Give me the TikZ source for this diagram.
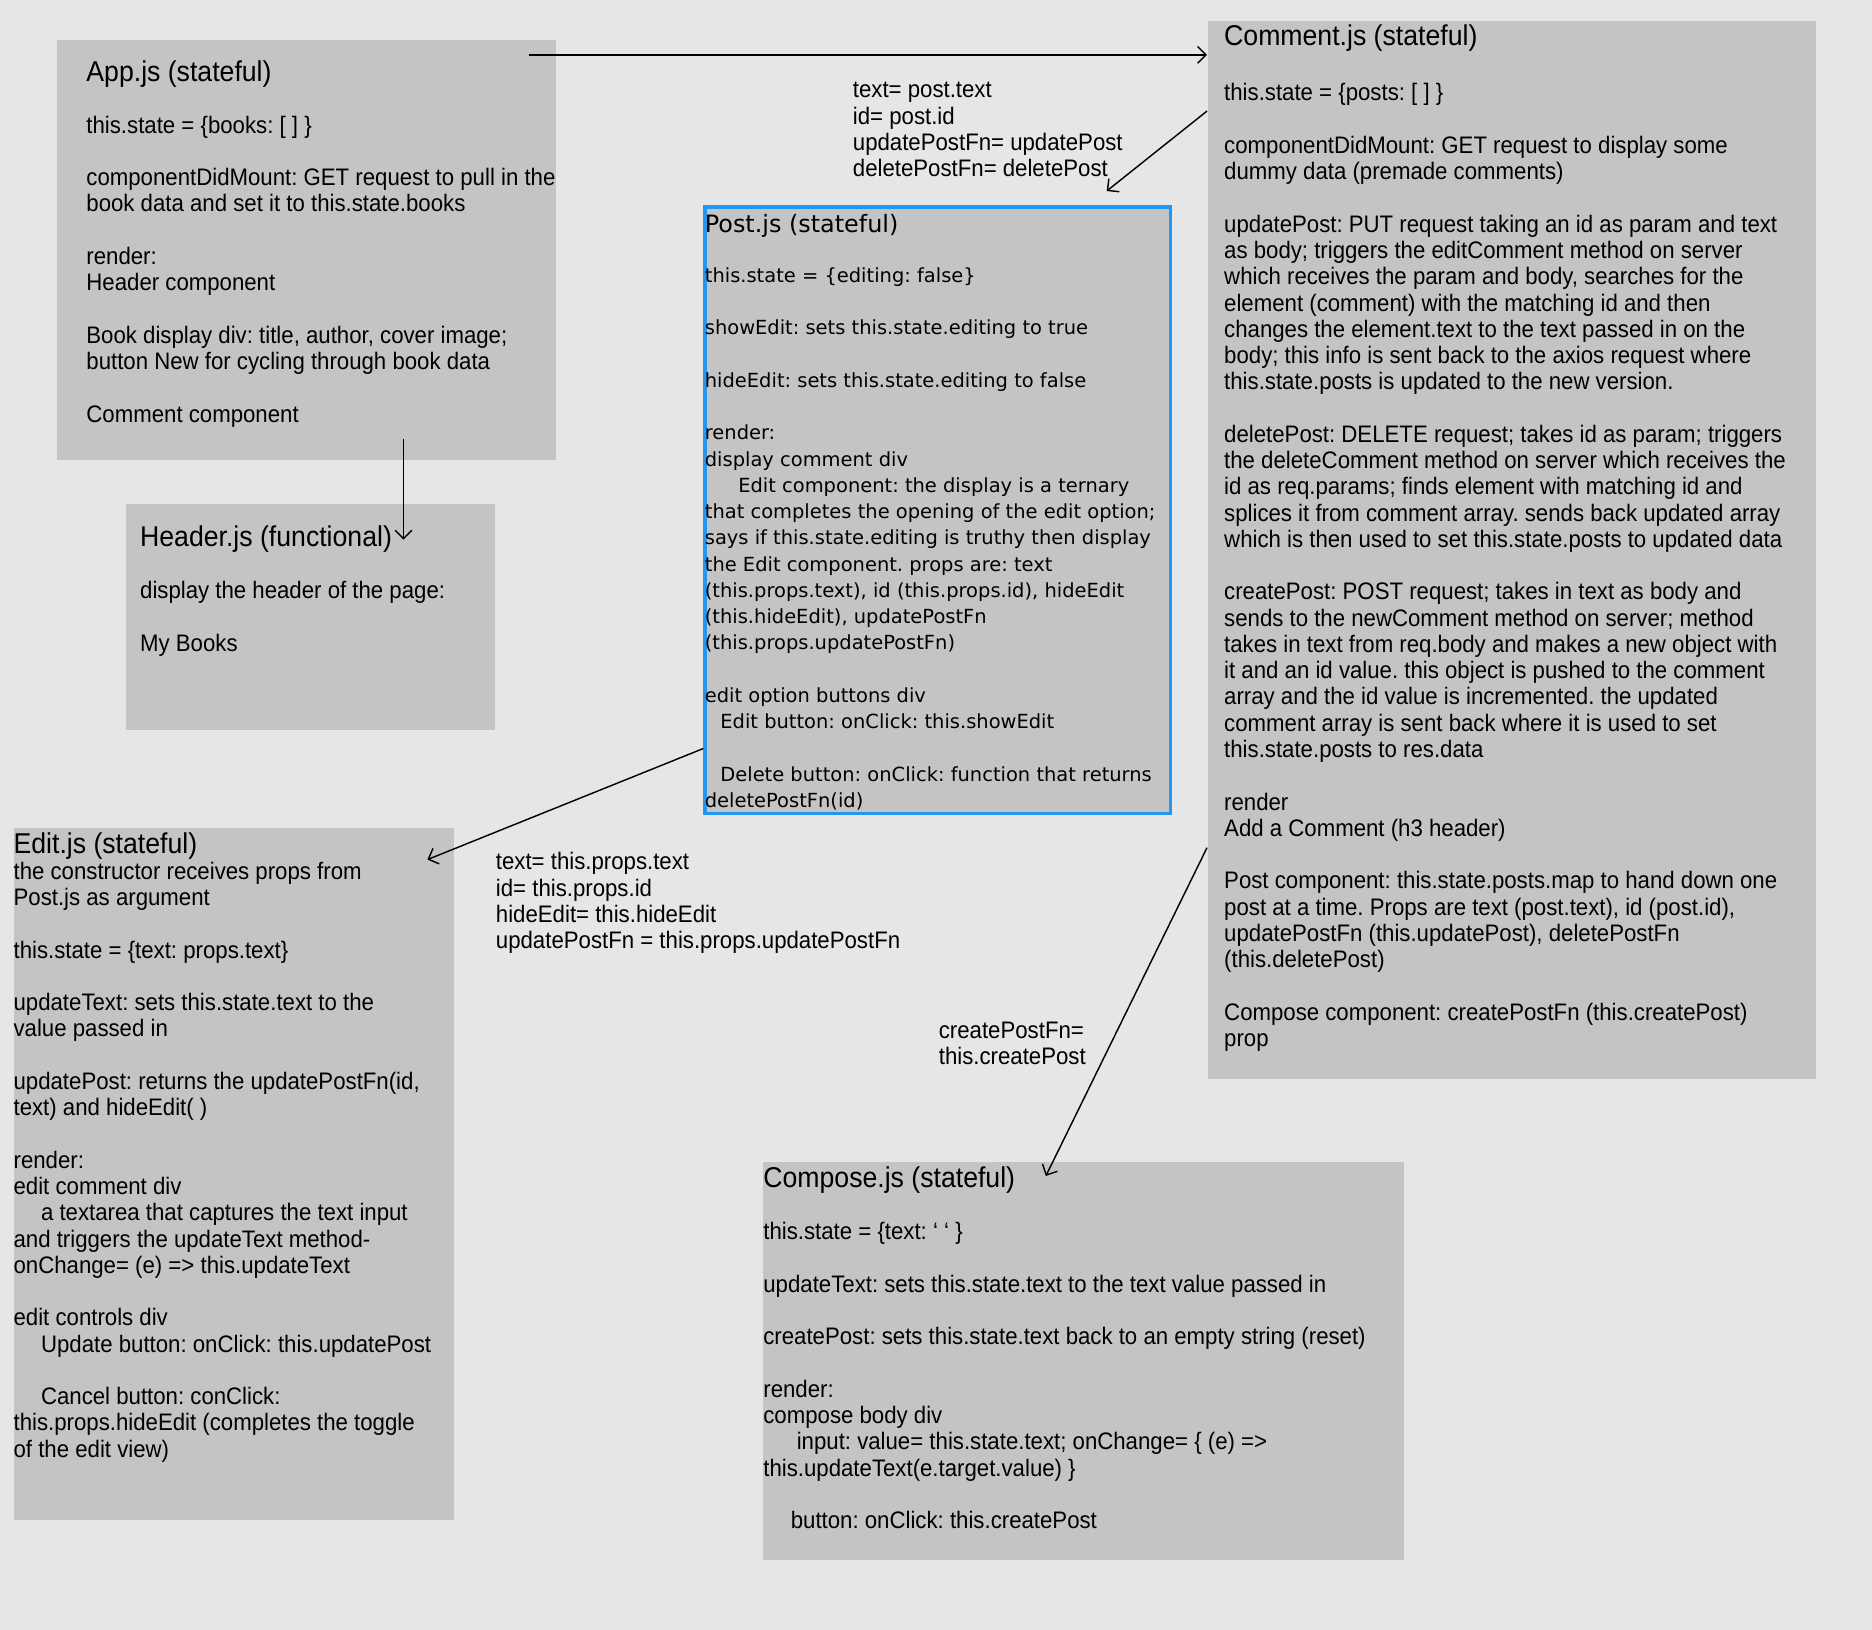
\documentclass[tikz,border=0pt]{standalone}
\usepackage{fontspec}
\setmainfont[FakeStretch=0.93]{Liberation Sans}
\newfontfamily\postfont{DejaVu Sans}
\usetikzlibrary{arrows.meta}
\definecolor{fondgris}{HTML}{E6E6E6}
\definecolor{boitegris}{HTML}{C4C4C4}
\definecolor{bleupost}{HTML}{2196F3}
\frenchspacing

\begin{document}
\begin{tikzpicture}[x=0.5pt,y=-0.5pt]
\tikzset{boite/.style={fill=boitegris, anchor=north west, inner sep=0pt},
  texte/.style={anchor=north west, yshift=6.2pt, align=left, inner sep=0pt,
    font=\fontsize{10}{11}\selectfont, execute at begin node=\strut},
  titre/.style={anchor=base west, yshift=-1.5pt, inner sep=0pt, font=\fontsize{12}{14}\selectfont},
  posttexte/.style={texte, font=\postfont\fontsize{8.15}{11}\selectfont},
  fleche/.style={-{Straight Barb[length=3.5pt,width=7pt]}, line width=0.6pt}}
\useasboundingbox (0,0) rectangle (1568,1365);
\fill[fondgris] (0,0) rectangle (1568,1365);
% boites
\node[boite, minimum width=209pt, minimum height=176pt] (App) at (47,33) {};
\node[boite, minimum width=255pt, minimum height=443pt] (Comment) at (1011,17) {};
\node[boite, draw=bleupost, line width=1.5pt, minimum width=195pt, minimum height=254pt] (Post) at (589,172) {};
\node[boite, minimum width=154.5pt, minimum height=94.5pt] (Header) at (105,422) {};
\node[boite, minimum width=184.5pt, minimum height=290pt] (Edit) at (11,693) {};
\node[boite, minimum width=268.5pt, minimum height=166.5pt] (Compose) at (639,973) {};
% titres
\node[titre] (tApp) at (72,65) {App.js (stateful)};
\node[titre] (tComment) at (1025,35) {Comment.js (stateful)};
\node[titre, font=\postfont\fontsize{10}{12}\selectfont] (tPost) at (590,192) {Post.js (stateful)};
\node[titre] (tHeader) at (117,455) {Header.js (functional)};
\node[titre] (tEdit) at (11,712) {Edit.js (stateful)};
\node[titre] (tCompose) at (639,992) {Compose.js (stateful)};
% textes
\node[texte] (bApp) at (72,109) {this.state = \{books: [ ] \}\\[11pt]
componentDidMount: GET request to pull in the\\
book data and set it to this.state.books\\[11pt]
render:\\
Header component\\[11pt]
Book display div: title, author, cover image;\\
button New for cycling through book data\\[11pt]
Comment component};
\node[texte] (bComment) at (1025,82) {this.state = \{posts: [ ] \}\\[11pt]
componentDidMount: GET request to display some\\
dummy data (premade comments)\\[11pt]
updatePost: PUT request taking an id as param and text\\
as body; triggers the editComment method on server\\
which receives the param and body, searches for the\\
element (comment) with the matching id and then\\
changes the element.text to the text passed in on the\\
body; this info is sent back to the axios request where\\
this.state.posts is updated to the new version.\\[11pt]
deletePost: DELETE request; takes id as param; triggers\\
the deleteComment method on server which receives the\\
id as req.params; finds element with matching id and\\
splices it from comment array. sends back updated array\\
which is then used to set this.state.posts to updated data\\[11pt]
createPost: POST request; takes in text as body and\\
sends to the newComment method on server; method\\
takes in text from req.body and makes a new object with\\
it and an id value. this object is pushed to the comment\\
array and the id value is incremented. the updated\\
comment array is sent back where it is used to set\\
this.state.posts to res.data\\[11pt]
render\\
Add a Comment (h3 header)\\[11pt]
Post component: this.state.posts.map to hand down one\\
post at a time. Props are text (post.text), id (post.id),\\
updatePostFn (this.updatePost), deletePostFn\\
(this.deletePost)\\[11pt]
Compose component: createPostFn (this.createPost)\\
prop};
\node[posttexte] (bPost) at (590,236) {this.state = \{editing: false\}\\[11pt]
showEdit: sets this.state.editing to true\\[11pt]
hideEdit: sets this.state.editing to false\\[11pt]
render:\\
display comment div\\
\hspace*{14pt}Edit component: the display is a ternary\\
that completes the opening of the edit option;\\
says if this.state.editing is truthy then display\\
the Edit component. props are: text\\
(this.props.text), id (this.props.id), hideEdit\\
(this.hideEdit), updatePostFn\\
(this.props.updatePostFn)\\[11pt]
edit option buttons div\\
\hspace*{6.5pt}Edit button: onClick: this.showEdit\\[11pt]
\hspace*{6.5pt}Delete button: onClick: function that returns\\
deletePostFn(id)};
\node[texte] (bHeader) at (117,499) {display the header of the page:\\[11pt]
My Books};
\node[texte] (bEdit) at (11,734) {the constructor receives props from\\
Post.js as argument\\[11pt]
this.state = \{text: props.text\}\\[11pt]
updateText: sets this.state.text to the\\
value passed in\\[11pt]
updatePost: returns the updatePostFn(id,\\
text) and hideEdit( )\\[11pt]
render:\\
edit comment div\\
\hspace*{11.5pt}a textarea that captures the text input\\
and triggers the updateText method-\\
onChange= (e) => this.updateText\\[11pt]
edit controls div\\
\hspace*{11.5pt}Update button: onClick: this.updatePost\\[11pt]
\hspace*{11.5pt}Cancel button: conClick:\\
this.props.hideEdit (completes the toggle\\
of the edit view)};
\node[texte] (bCompose) at (639,1036) {this.state = \{text: ‘ ‘ \}\\[11pt]
updateText: sets this.state.text to the text value passed in\\[11pt]
createPost: sets this.state.text back to an empty string (reset)\\[11pt]
render:\\
compose body div\\
\hspace*{14pt}input: value= this.state.text; onChange= \{ (e) =>\\
this.updateText(e.target.value) \}\\[11pt]
\hspace*{11.5pt}button: onClick: this.createPost};
% etiquettes
\node[texte] (L1) at (714,81) {text= post.text\\
id= post.id\\
updatePostFn= updatePost\\
deletePostFn= deletePost};
\node[texte] (L2) at (415,726) {text= this.props.text\\
id= this.props.id\\
hideEdit= this.hideEdit\\
updatePostFn = this.props.updatePostFn};
\node[texte] (L3) at (786,868) {createPostFn=\\
this.createPost};
% fleches
\coordinate (a1) at (443,46);
\coordinate (a2) at (1011,93);
\coordinate (f2) at (927,160);
\coordinate (a3) at (338,368);
\coordinate (f3) at (338,452);
\coordinate (a4) at (589,627);
\coordinate (f4) at (358,720);
\coordinate (a5) at (1011,710);
\coordinate (f5) at (876,985);
\draw[fleche] (a1) -- (Comment.west |- a1);
\draw[fleche] (Comment.west |- a2) -- (f2);
\draw[fleche] (a3) -- (f3);
\draw[fleche] (Post.west |- a4) -- (f4);
\draw[fleche] (Comment.west |- a5) -- (f5);
\end{tikzpicture}
\end{document}
